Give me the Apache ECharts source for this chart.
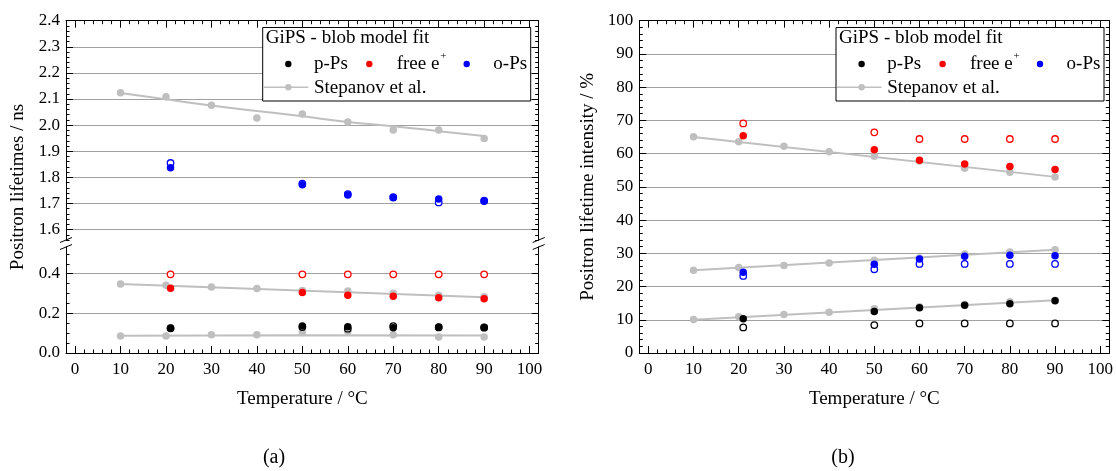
<!DOCTYPE html>
<html>
<head>
<meta charset="utf-8">
<script src="https://cdn.jsdelivr.net/npm/echarts@6/dist/echarts.min.js"></script>
<style>
  html, body { margin: 0; padding: 0; background: #fff; }
  #chart { width: 1116px; height: 471px; }
</style>
</head>
<body>
<div id="chart"></div>
<script>
// ---------- data ----------
// temperatures (°C)
const stepanovTemps = [10, 20, 30, 40, 50, 60, 70, 80, 90];
const gipsTemps = [21, 50, 60, 70, 80, 90];

// positron lifetimes (ns) – Stepanov et al.
const stepTauOPs = [2.124, 2.109, 2.076, 2.027, 2.043, 2.012, 1.981, 1.981, 1.949];
const stepTauFree = [0.348, 0.342, 0.333, 0.325, 0.315, 0.313, 0.301, 0.291, 0.284];
const stepTauPPs = [0.086, 0.086, 0.092, 0.092, 0.103, 0.109, 0.092, 0.081, 0.081];
// Stepanov et al. trend lines [temperature, value]
const stepTauOPsTrend = [[10, 2.123], [20, 2.099], [30, 2.075], [40, 2.054], [50, 2.034], [60, 2.012], [70, 1.996], [80, 1.977], [90, 1.958]];
const stepTauFreeTrend = [[10, 0.348], [90, 0.281]];
const stepTauPPsTrend = [[10, 0.087], [50, 0.090], [90, 0.088]];

// positron lifetimes (ns) – GiPS blob model fit (filled / open)
const gipsTauOPs = [1.837, 1.772, 1.732, 1.722, 1.717, 1.708];
const gipsTauOPsOpen = [1.855, 1.776, 1.736, 1.724, 1.704, 1.711];
const gipsTauFree = [0.327, 0.305, 0.291, 0.286, 0.279, 0.274];
const gipsTauFreeOpen = [0.397, 0.397, 0.397, 0.397, 0.397, 0.397];
const gipsTauPPs = [0.125, 0.136, 0.133, 0.128, 0.131, 0.130];
const gipsTauPPsOpen = [0.125, 0.131, 0.123, 0.136, 0.129, 0.128];

// lifetime intensities (%) – Stepanov et al.
const stepIntFree = [65.1, 63.6, 62.2, 60.6, 59.2, 57.8, 55.6, 54.4, 53.0];
const stepIntOPs = [24.9, 25.7, 26.3, 27.1, 27.9, 28.6, 29.8, 30.4, 31.1];
const stepIntPPs = [10.1, 10.9, 11.6, 12.3, 13.3, 13.9, 14.6, 15.4, 15.9];
const stepIntFreeTrend = [[10, 65.0], [90, 53.0]];
const stepIntOPsTrend = [[10, 24.9], [90, 31.1]];
const stepIntPPsTrend = [[10, 10.0], [90, 15.9]];

// lifetime intensities (%) – GiPS blob model fit (filled / open)
const gipsIntFree = [65.4, 61.2, 58.0, 56.9, 56.1, 55.2];
const gipsIntFreeOpen = [69.1, 66.4, 64.4, 64.4, 64.4, 64.4];
const gipsIntOPs = [24.3, 26.7, 28.3, 29.1, 29.4, 29.3];
const gipsIntOPsOpen = [23.2, 25.2, 26.8, 26.8, 26.8, 26.8];
const gipsIntPPs = [10.3, 12.5, 13.6, 14.4, 14.8, 15.7];
const gipsIntPPsOpen = [7.7, 8.4, 8.9, 8.9, 8.9, 8.9];

// tick labels
const tempTicks = [0, 10, 20, 30, 40, 50, 60, 70, 80, 90, 100];
const tauUpperTicks = [1.6, 1.7, 1.8, 1.9, 2.0, 2.1, 2.2, 2.3, 2.4];
const tauLowerTicks = [0.0, 0.2, 0.4];
const intensityTicks = [0, 10, 20, 30, 40, 50, 60, 70, 80, 90, 100];

// ---------- styling ----------
const FONT = 'Liberation Serif';
const C_BLACK = '#000000', C_RED = '#ff0000', C_BLUE = '#0000ff', C_GRAY = '#bfbfbf';
const GRID_LINE = '#a0a0a0';

function steps(from, to, step) {
  const out = [];
  for (let v = from; v <= to + step * 1e-6; v += step) out.push(Math.round(v * 1e6) / 1e6);
  return out;
}
const pair = (xs, ys) => xs.map((x, i) => [x, ys[i]]);

// ---------- axes ----------
const xAxes = [], yAxes = [];

// one side of a frame: a major-tick axis plus an overlaid minor-tick axis
function addAxis(list, cfg) {
  const idx = list.length;
  const base = {
    type: 'value', gridIndex: cfg.grid, position: cfg.position, min: cfg.min, max: cfg.max,
    offset: 0, silent: true,
    axisLine: { show: cfg.line !== false, onZero: false, lineStyle: { color: '#000', width: 1 } },
    axisTick: { show: cfg.ticks !== false, inside: true, length: 7, customValues: cfg.majors,
                lineStyle: { color: '#000', width: 1 } },
    axisLabel: cfg.labels ? {
      show: true, customValues: cfg.labels, formatter: cfg.fmt, color: '#000',
      fontFamily: FONT, fontSize: 17, margin: cfg.margin || 7
    } : { show: false },
    splitLine: cfg.split ? { show: true, lineStyle: { color: GRID_LINE, width: 1 } } : { show: false },
    name: cfg.name || '', nameLocation: 'middle', nameGap: cfg.nameGap || 0,
    nameTextStyle: { fontFamily: FONT, fontSize: 19, color: '#000' }
  };
  list.push(base);
  if (cfg.ticks !== false) {
    list.push({
      type: 'value', gridIndex: cfg.grid, position: cfg.position, min: cfg.min, max: cfg.max,
      offset: 0, silent: true,
      axisLine: { show: false, onZero: false },
      axisTick: { show: true, inside: true, length: 3.5, customValues: cfg.minors,
                  lineStyle: { color: '#000', width: 1 } },
      axisLabel: { show: false }, splitLine: { show: false }
    });
  }
  return idx;
}

const X_MIN = -2, X_MAX = 102;
const xMinor = steps(-2, 102, 2);

// grid 0: left chart, upper segment (o-Ps lifetimes)
// grid 1: left chart, lower segment (p-Ps and free e+ lifetimes)
// grid 2: right chart (intensities)
const grids = [
  { left: 66, top: 20.7, width: 472.7, height: 219.3 },
  { left: 66, top: 247, width: 472.7, height: 106 },
  { left: 639.3, top: 20.7, width: 471.7, height: 332.3 }
];

// left chart, upper
const xU = addAxis(xAxes, { grid: 0, position: 'bottom', min: X_MIN, max: X_MAX, line: false, ticks: false });
addAxis(xAxes, { grid: 0, position: 'top', min: X_MIN, max: X_MAX, majors: tempTicks, minors: xMinor });
const yU = addAxis(yAxes, { grid: 0, position: 'left', min: 1.56, max: 2.4, majors: tauUpperTicks,
  minors: steps(1.56, 2.4, 0.02), labels: tauUpperTicks, fmt: v => v.toFixed(1), split: true, margin: 6 });
addAxis(yAxes, { grid: 0, position: 'right', min: 1.56, max: 2.4, majors: tauUpperTicks, minors: steps(1.56, 2.4, 0.02) });

// left chart, lower
const xL = addAxis(xAxes, { grid: 1, position: 'bottom', min: X_MIN, max: X_MAX, majors: tempTicks,
  minors: xMinor, labels: tempTicks, fmt: v => String(v), name: 'Temperature / °C', nameGap: 37, margin: 8 });
addAxis(xAxes, { grid: 1, position: 'top', min: X_MIN, max: X_MAX, line: false, ticks: false });
const yL = addAxis(yAxes, { grid: 1, position: 'left', min: 0, max: 0.535, majors: tauLowerTicks,
  minors: steps(0, 0.5, 0.05), labels: tauLowerTicks, fmt: v => v.toFixed(1), split: true, margin: 6 });
addAxis(yAxes, { grid: 1, position: 'right', min: 0, max: 0.535, majors: tauLowerTicks, minors: steps(0, 0.5, 0.05) });

// right chart
const xR = addAxis(xAxes, { grid: 2, position: 'bottom', min: X_MIN, max: X_MAX, majors: tempTicks,
  minors: xMinor, labels: tempTicks, fmt: v => String(v), name: 'Temperature / °C', nameGap: 37, margin: 8 });
addAxis(xAxes, { grid: 2, position: 'top', min: X_MIN, max: X_MAX, majors: tempTicks, minors: xMinor });
const yR = addAxis(yAxes, { grid: 2, position: 'left', min: 0, max: 100, majors: intensityTicks,
  minors: steps(0, 100, 2), labels: intensityTicks, fmt: v => String(v), split: true, margin: 6,
  name: 'Positron lifetime intensity / %', nameGap: 42 });
addAxis(yAxes, { grid: 2, position: 'right', min: 0, max: 100, majors: intensityTicks, minors: steps(0, 100, 2) });

// ---------- series ----------
const series = [];
function trend(xi, yi, data) {
  series.push({ type: 'line', xAxisIndex: xi, yAxisIndex: yi, data, smooth: true, showSymbol: false,
    silent: true, lineStyle: { color: C_GRAY, width: 2 }, z: 2 });
}
function stepPoints(xi, yi, ys) {
  series.push({ type: 'scatter', xAxisIndex: xi, yAxisIndex: yi, data: pair(stepanovTemps, ys),
    symbol: 'circle', symbolSize: 7.5, itemStyle: { color: C_GRAY, opacity: 1 }, silent: true, z: 3 });
}
function gips(xi, yi, ys, open, color) {
  series.push({ type: 'scatter', xAxisIndex: xi, yAxisIndex: yi, data: pair(gipsTemps, open),
    symbol: 'circle', symbolSize: 6.5, silent: true, z: 4,
    itemStyle: { color: '#ffffff', borderColor: color, borderWidth: 1.3, opacity: 1 } });
  series.push({ type: 'scatter', xAxisIndex: xi, yAxisIndex: yi, data: pair(gipsTemps, ys),
    symbol: 'circle', symbolSize: 7.5, silent: true, z: 5, itemStyle: { color, opacity: 1 } });
}

// lifetimes
trend(xU, yU, stepTauOPsTrend); stepPoints(xU, yU, stepTauOPs);
gips(xU, yU, gipsTauOPs, gipsTauOPsOpen, C_BLUE);
trend(xL, yL, stepTauFreeTrend); stepPoints(xL, yL, stepTauFree);
trend(xL, yL, stepTauPPsTrend); stepPoints(xL, yL, stepTauPPs);
gips(xL, yL, gipsTauFree, gipsTauFreeOpen, C_RED);
gips(xL, yL, gipsTauPPs, gipsTauPPsOpen, C_BLACK);

// intensities
trend(xR, yR, stepIntFreeTrend); stepPoints(xR, yR, stepIntFree);
trend(xR, yR, stepIntOPsTrend); stepPoints(xR, yR, stepIntOPs);
trend(xR, yR, stepIntPPsTrend); stepPoints(xR, yR, stepIntPPs);
gips(xR, yR, gipsIntFree, gipsIntFreeOpen, C_RED);
gips(xR, yR, gipsIntOPs, gipsIntOPsOpen, C_BLUE);
gips(xR, yR, gipsIntPPs, gipsIntPPsOpen, C_BLACK);

// ---------- decorations: legends, axis break, captions ----------
const graphics = [];
function legendBox(x0) {
  const font = '19px "' + FONT + '"';
  graphics.push(
    { type: 'rect', z: 20, shape: { x: x0, y: 27.5, width: 268, height: 73.5 },
      style: { fill: '#fff', stroke: '#000', lineWidth: 1 } },
    { type: 'text', z: 21, x: x0 + 3, y: 38, style: { text: 'GiPS - blob model fit', font, fill: '#000', textVerticalAlign: 'middle' } },
    { type: 'circle', z: 21, shape: { cx: x0 + 25.6, cy: 64, r: 3.2 }, style: { fill: C_BLACK } },
    { type: 'text', z: 21, x: x0 + 51.3, y: 64.5, style: { text: 'p-Ps', font, fill: '#000', textVerticalAlign: 'middle' } },
    { type: 'circle', z: 21, shape: { cx: x0 + 106.6, cy: 64, r: 3.2 }, style: { fill: C_RED } },
    { type: 'text', z: 21, x: x0 + 134, y: 64.5, style: { text: 'free e', font, fill: '#000', textVerticalAlign: 'middle' } },
    { type: 'text', z: 21, x: x0 + 177.5, y: 56, style: { text: '+', font: '11px "' + FONT + '"', fill: '#000', textVerticalAlign: 'middle' } },
    { type: 'circle', z: 21, shape: { cx: x0 + 204, cy: 64, r: 3.2 }, style: { fill: C_BLUE } },
    { type: 'text', z: 21, x: x0 + 230.6, y: 64.5, style: { text: 'o-Ps', font, fill: '#000', textVerticalAlign: 'middle' } },
    { type: 'line', z: 21, shape: { x1: x0 + 1, y1: 87.3, x2: x0 + 45.6, y2: 87.3 }, style: { stroke: C_GRAY, lineWidth: 1.5 } },
    { type: 'circle', z: 21, shape: { cx: x0 + 25.6, cy: 87.3, r: 3.2 }, style: { fill: C_GRAY } },
    { type: 'text', z: 21, x: x0 + 51.3, y: 87.8, style: { text: 'Stepanov et al.', font, fill: '#000', textVerticalAlign: 'middle' } }
  );
}
legendBox(262.7);
legendBox(836);

// axis-break marks on both vertical axes of the left chart
[66, 538.7].forEach(ax => {
  graphics.push(
    { type: 'line', z: 20, shape: { x1: ax - 6, y1: 242.5, x2: ax + 6, y2: 237.5 }, style: { stroke: '#000', lineWidth: 1 } },
    { type: 'line', z: 20, shape: { x1: ax - 6, y1: 249.5, x2: ax + 6, y2: 244.5 }, style: { stroke: '#000', lineWidth: 1 } }
  );
});

// left y-axis title spans both segments
graphics.push({ type: 'text', z: 20, x: 18.5, y: 187, rotation: Math.PI / 2,
  style: { text: 'Positron lifetimes / ns', font: '19px "' + FONT + '"', fill: '#000',
           textAlign: 'center', textVerticalAlign: 'middle' } });

// panel captions
graphics.push(
  { type: 'text', z: 20, x: 274, y: 458, style: { text: '(a)', font: '20px "' + FONT + '"', fill: '#000', textAlign: 'center', textVerticalAlign: 'middle' } },
  { type: 'text', z: 20, x: 843, y: 458, style: { text: '(b)', font: '20px "' + FONT + '"', fill: '#000', textAlign: 'center', textVerticalAlign: 'middle' } }
);

const chart = echarts.init(document.getElementById('chart'), null, { renderer: 'canvas' });
chart.setOption({
  animation: false,
  backgroundColor: '#ffffff',
  textStyle: { fontFamily: FONT },
  grid: grids,
  xAxis: xAxes,
  yAxis: yAxes,
  series,
  graphic: { elements: graphics }
});
</script>
</body>
</html>
